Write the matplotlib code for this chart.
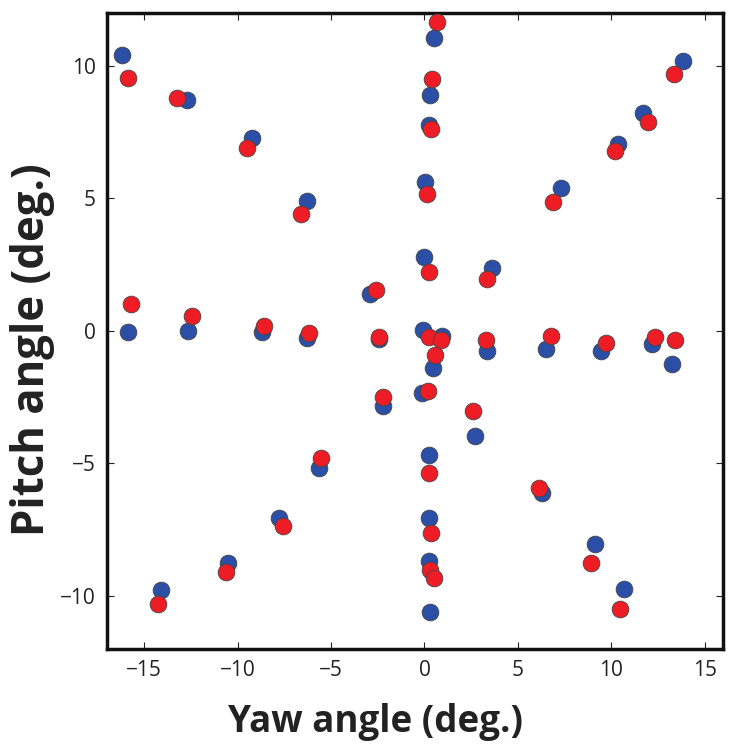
import matplotlib
matplotlib.use("Agg")
import matplotlib.pyplot as plt

plt.rcParams['font.family'] = ['Open Sans', 'DejaVu Sans']

# blue set (yaw, pitch)
blue_yaw = [-16.2, -12.73, -9.23, -6.28, -2.94, -15.88, -12.64, -8.72, -6.28, -2.45,
            -2.23, -5.63, -7.77, -10.51, -14.11, 0.52, 0.29, 0.25, 0.04, -0.02,
            3.62, 7.31, 10.36, 11.69, 13.85, -0.07, 0.96, 0.48, -0.11, 3.36,
            6.49, 9.44, 12.18, 13.23, 2.68, 0.25, 6.31, 0.25, 9.12, 0.25,
            10.71, 0.29]
blue_pitch = [10.41, 8.69, 7.29, 4.91, 1.38, -0.05, -0.03, -0.04, -0.27, -0.3,
              -2.84, -5.19, -7.06, -8.75, -9.8, 11.06, 8.91, 7.75, 5.6, 2.79,
              2.35, 5.37, 7.06, 8.22, 10.19, 0.01, -0.21, -1.4, -2.34, -0.75,
              -0.71, -0.75, -0.52, -1.24, -3.99, -4.69, -6.11, -7.06, -8.05, -8.71,
              -9.74, -10.62]

# red set (yaw, pitch)
red_yaw = [-15.88, -13.26, -9.5, -6.63, -2.62, -15.7, -12.43, -8.61, -6.19, -2.41,
           -2.23, -5.56, -7.59, -10.65, -14.29, 0.66, 0.43, 0.34, 0.11, 0.25,
           3.35, 6.9, 10.23, 11.99, 13.37, 0.25, 0.87, 0.57, 0.21, 3.32,
           6.78, 9.73, 12.36, 13.41, 2.59, 0.25, 6.14, 0.34, 8.9, 0.29,
           10.45, 0.52]
red_pitch = [9.54, 8.79, 6.91, 4.41, 1.54, 1.0, 0.56, 0.19, -0.09, -0.24,
             -2.49, -4.81, -7.36, -9.11, -10.31, 11.64, 9.5, 7.6, 5.16, 2.22,
             1.94, 4.85, 6.79, 7.89, 9.69, -0.24, -0.34, -0.9, -2.28, -0.36,
             -0.19, -0.46, -0.24, -0.34, -3.03, -5.36, -5.94, -7.65, -8.75, -9.05,
             -10.52, -9.34]

xticks = [-15, -10, -5, 0, 5, 10, 15]
yticks = [-10, -5, 0, 5, 10]

fig = plt.figure(figsize=(7.38, 7.49), dpi=100)
ax = fig.add_axes([0.145, 0.134, 0.835, 0.849])

ax.scatter(blue_yaw, blue_pitch, s=145, c='#2b4fa6', edgecolors='#444444',
           linewidths=0.6, zorder=3)
ax.scatter(red_yaw, red_pitch, s=145, c='#ee1d25', edgecolors='#444444',
           linewidths=0.6, zorder=4)

ax.set_xlim(-17, 16)
ax.set_ylim(-12, 12)
ax.set_xticks(xticks)
ax.set_yticks(yticks)
ax.tick_params(direction='in', top=True, right=True, length=5, width=0.8,
               labelsize=15, pad=8, colors='#222222')
for sp in ax.spines.values():
    sp.set_linewidth(2.5)
    sp.set_color('#111111')

ax.set_xlabel('Yaw angle (deg.)', fontsize=26.5, fontweight='bold',
              color='#222222')
ax.xaxis.set_label_coords(0.435, -0.085)
ax.set_ylabel('Pitch angle (deg.)', fontsize=31.5, fontweight='bold',
              color='#222222')
ax.yaxis.set_label_coords(-0.085, 0.47)

fig.savefig('out.png', dpi=100)
